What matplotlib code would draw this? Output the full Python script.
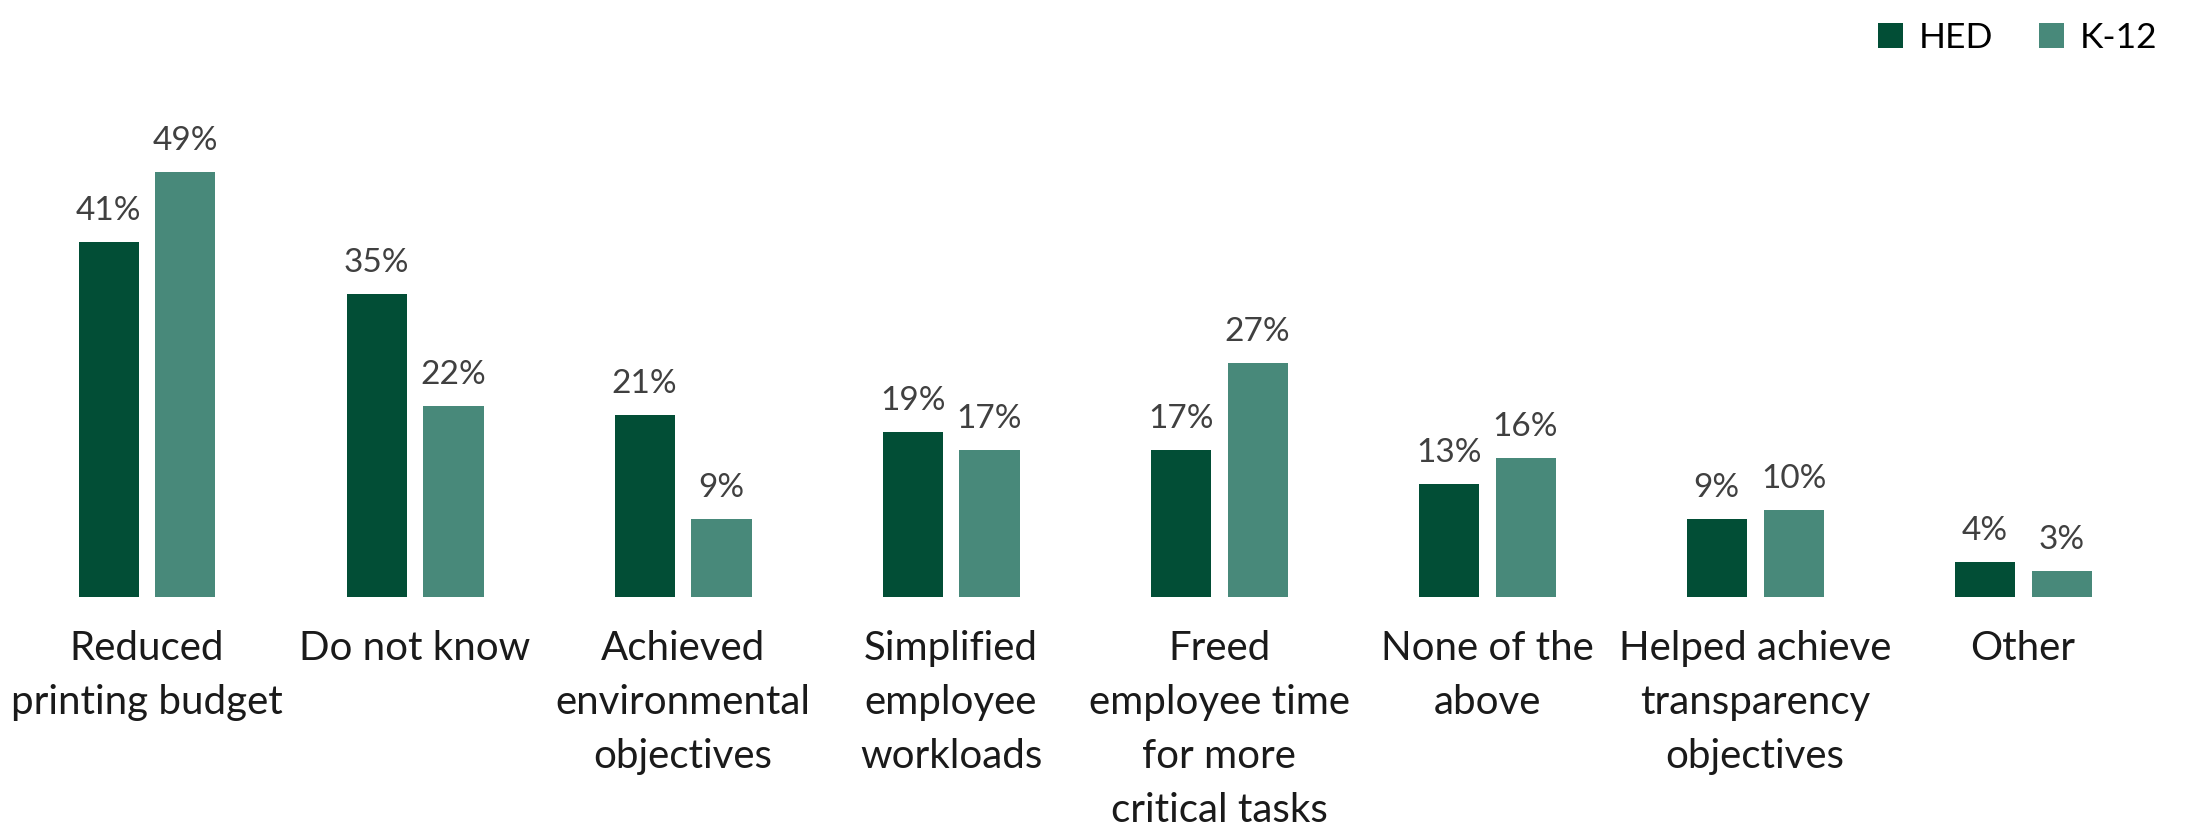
import matplotlib.pyplot as plt
import numpy as np

categories = [
    "Reduced\nprinting budget",
    "Do not know",
    "Achieved\nenvironmental\nobjectives",
    "Simplified\nemployee\nworkloads",
    "Freed\nemployee time\nfor more\ncritical tasks",
    "None of the\nabove",
    "Helped achieve\ntransparency\nobjectives",
    "Other",
]
hed = [41, 35, 21, 19, 17, 13, 9, 4]
k12 = [49, 22, 9, 17, 27, 16, 10, 3]

HED_COLOR = "#024E36"
K12_COLOR = "#48897A"

plt.rcParams["font.family"] = ["Lato", "DejaVu Sans"]

figure = plt.figure(figsize=(21.85, 8.27), dpi=100)
axes = figure.add_axes([0, 0.278, 1, 0.722])

x_axis = np.arange(len(categories))
bar_width = 0.224
offset = (bar_width + 0.063) / 2

hed_plot = axes.bar(x_axis - offset, hed, width=bar_width, color=HED_COLOR)
k12_plot = axes.bar(x_axis + offset, k12, width=bar_width, color=K12_COLOR)

for bars, values in ((hed_plot, hed), (k12_plot, k12)):
    for bar, value in zip(bars, values):
        axes.annotate(
            f"{value}%",
            (bar.get_x() + bar.get_width() / 2, bar.get_height()),
            xytext=(0, 16),
            textcoords="offset points",
            ha="center",
            va="baseline",
            fontsize=24,
            color="#404040",
        )

axes.set_xlim(-0.5485, 7.604)
axes.set_ylim(0, 68.9)
axes.set_xticks(x_axis, categories, fontsize=29, color="#1a1a1a", linespacing=1.56)
axes.tick_params(axis="x", length=0, pad=24)
axes.set_yticks([])
for spine in axes.spines.values():
    spine.set_visible(False)

figure.legend(
    (hed_plot, k12_plot),
    ("HED", "K-12"),
    loc="upper right",
    bbox_to_anchor=(1.002, 1.012),
    ncol=2,
    frameon=False,
    fontsize=25.5,
    handlelength=0.7,
    handleheight=0.7,
    handletextpad=0.45,
    columnspacing=1.3,
)

figure.savefig("out.png", dpi=100)
